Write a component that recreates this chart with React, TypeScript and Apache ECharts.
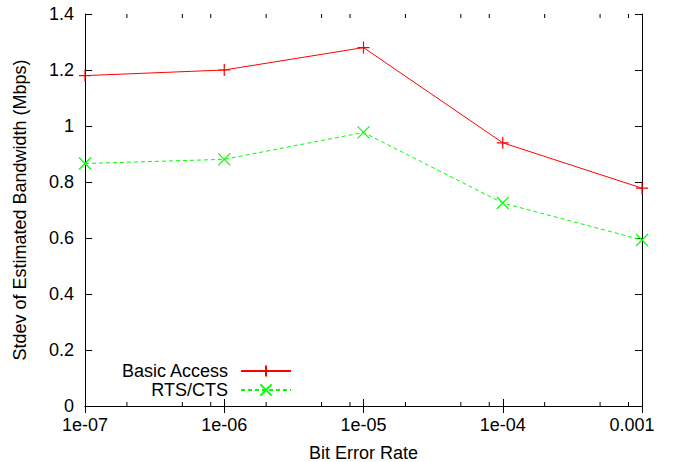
import React, { useEffect, useRef } from 'react';
import * as echarts from 'echarts';

const berValues = [1e-7, 1e-6, 1e-5, 1e-4, 1e-3];
const xTickLabels = ['1e-07', '1e-06', '1e-05', '1e-04', '0.001'];
const basicAccess = [1.18, 1.2, 1.28, 0.94, 0.778];
const rtsCts = [0.866, 0.881, 0.977, 0.725, 0.593];
const minorMultipliers = [2, 5, 8];
const seriesNames = ['Basic Access', 'RTS/CTS'];

const FONT = '"Liberation Sans", Arial, Helvetica, sans-serif';

export default function App() {
  const ref = useRef<HTMLDivElement>(null);

  useEffect(() => {
    if (!ref.current) return;
    const chart = echarts.init(ref.current, null, { renderer: 'svg' });
    const xMin = Math.log10(berValues[0]);
    const xMax = Math.log10(berValues[berValues.length - 1]);
    const minorTicks = berValues
      .slice(0, -1)
      .flatMap((b) => minorMultipliers.map((m) => [Math.log10(m * b), 0]));

    const axisLine = { show: true, lineStyle: { color: '#000', width: 1 } };
    const legendCommon = {
      orient: 'vertical',
      align: 'right',
      itemWidth: 50,
      itemHeight: 14,
      padding: 0,
      selectedMode: false,
      formatter: '{t|{name}}',
      textStyle: {
        fontFamily: FONT,
        fontSize: 18,
        color: '#000',
        rich: { t: { fontFamily: FONT, fontSize: 18, color: '#000', padding: [0, 8, 0, 0] } },
      },
    };

    chart.setOption({
      animation: false,
      backgroundColor: '#fff',
      grid: { left: 85, right: 31, top: 14, bottom: 56, containLabel: false, outerBoundsMode: 'none' },
      legend: [
        { ...legendCommon, data: [seriesNames[0]], right: 381, top: 362 },
        { ...legendCommon, data: [seriesNames[1]], right: 381, top: 381 },
      ],
      xAxis: [
        {
          type: 'value',
          min: xMin,
          max: xMax,
          interval: 1,
          position: 'bottom',
          name: 'Bit Error Rate',
          nameLocation: 'middle',
          nameGap: 38,
          nameTextStyle: { fontFamily: FONT, fontSize: 18, color: '#000' },
          axisLine,
          axisTick: { show: true, inside: true, length: 7, lineStyle: { color: '#000' } },
          splitLine: { show: false },
          axisLabel: {
            margin: 10,
            lineHeight: 17,
            fontFamily: FONT,
            fontSize: 18,
            color: '#000',
            showMinLabel: true,
            showMaxLabel: true,
            formatter: (v: number) => {
              const idx = Math.round(v - xMin);
              const label = xTickLabels[idx] ?? '';
              return idx === xTickLabels.length - 1 ? `{last|${label}}` : label;
            },
            rich: { last: { fontFamily: FONT, fontSize: 18, lineHeight: 17, color: '#000', padding: [0, 20, 0, 0] } },
          },
        },
        {
          type: 'value',
          min: xMin,
          max: xMax,
          interval: 1,
          position: 'top',
          axisLine,
          axisTick: { show: true, inside: true, length: 7, lineStyle: { color: '#000' } },
          axisLabel: { show: false },
          splitLine: { show: false },
        },
      ],
      yAxis: [
        {
          type: 'value',
          min: 0,
          max: 1.4,
          interval: 0.2,
          position: 'left',
          name: 'Stdev of Estimated Bandwidth (Mbps)',
          nameLocation: 'middle',
          nameGap: 56,
          nameTextStyle: { fontFamily: FONT, fontSize: 18, color: '#000' },
          axisLine,
          axisTick: { show: true, inside: true, length: 7, lineStyle: { color: '#000' } },
          splitLine: { show: false },
          axisLabel: { margin: 11, lineHeight: 16, fontFamily: FONT, fontSize: 18, color: '#000' },
        },
        {
          type: 'value',
          min: 0,
          max: 1.4,
          interval: 0.2,
          position: 'right',
          axisLine,
          axisTick: { show: true, inside: true, length: 7, lineStyle: { color: '#000' } },
          axisLabel: { show: false },
          splitLine: { show: false },
        },
      ],
      series: [
        {
          name: seriesNames[0],
          type: 'line',
          data: berValues.map((b, i) => [Math.log10(b), basicAccess[i]]),
          symbol: 'path://M5,0L5,10M0,5L10,5',
          symbolSize: 12,
          itemStyle: { color: '#ff0000', borderColor: '#ff0000', borderWidth: 1.2 },
          lineStyle: { color: '#ff0000', width: 1 },
          clip: false,
          z: 5,
        },
        {
          name: seriesNames[1],
          type: 'line',
          data: berValues.map((b, i) => [Math.log10(b), rtsCts[i]]),
          symbol: 'path://M0,0L10,10M10,0L0,10',
          symbolSize: 12,
          itemStyle: { color: '#00ff00', borderColor: '#00ff00', borderWidth: 1.2 },
          lineStyle: { color: '#00ff00', width: 1, type: [4, 3] },
          clip: false,
          z: 5,
        },
        {
          type: 'custom',
          silent: true,
          data: minorTicks,
          encode: { x: 0, y: 1 },
          renderItem: (_params: any, api: any) => {
            const x = api.value(0);
            const b = api.coord([x, 0]);
            const t = api.coord([x, 1.4]);
            return {
              type: 'group',
              children: [
                { type: 'line', shape: { x1: b[0], y1: b[1], x2: b[0], y2: b[1] - 4 }, style: { stroke: '#000', lineWidth: 1 } },
                { type: 'line', shape: { x1: t[0], y1: t[1], x2: t[0], y2: t[1] + 4 }, style: { stroke: '#000', lineWidth: 1 } },
              ],
            };
          },
        },
      ],
    });
    return () => chart.dispose();
  }, []);

  return (
    <div
      ref={ref}
      style={{ position: 'fixed', left: 0, top: 0, width: 673, height: 462 }}
    />
  );
}
